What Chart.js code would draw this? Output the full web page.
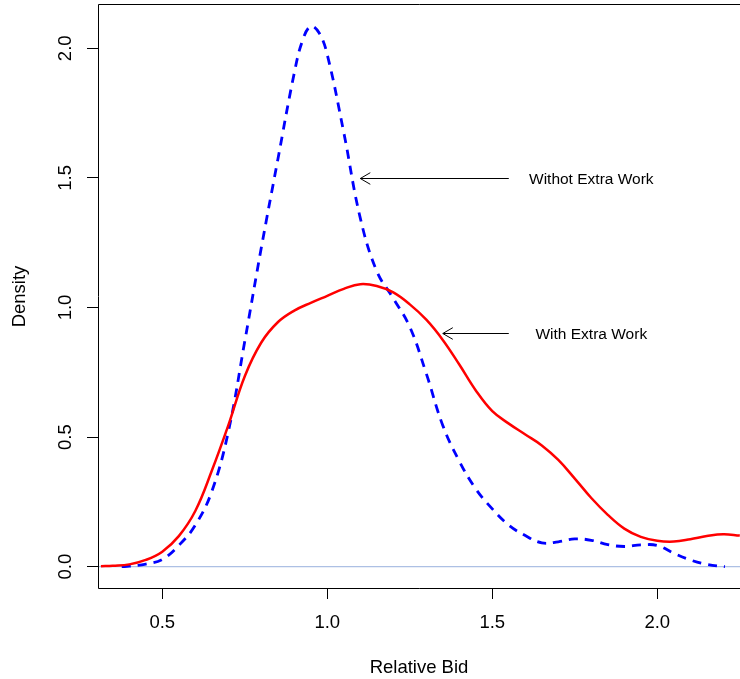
<!DOCTYPE html>
<html>
<head>
<meta charset="utf-8">
<script src="https://cdn.jsdelivr.net/npm/chart.js@4.4.1/dist/chart.umd.min.js"></script>
<style>
  html, body { margin: 0; padding: 0; background: #fff; overflow: hidden; }
  canvas { display: block; }
</style>
</head>
<body>
<canvas id="myChart" width="740" height="679"></canvas>
<script>
// density of relative bids
const withX = [0.314, 0.35, 0.40, 0.45, 0.50, 0.55, 0.60, 0.65, 0.70, 0.75, 0.80, 0.85, 0.90, 0.95, 1.00,
    1.05, 1.10, 1.15, 1.20, 1.25, 1.30, 1.35, 1.40, 1.45, 1.50, 1.55, 1.60, 1.65, 1.70, 1.75, 1.80,
    1.85, 1.90, 1.95, 2.00, 2.05, 2.10, 2.15, 2.20, 2.25];
const withY = [0.002, 0.004, 0.009, 0.026, 0.058, 0.118, 0.215, 0.37, 0.545, 0.735, 0.865, 0.943, 0.988, 1.018, 1.045,
    1.072, 1.09, 1.083, 1.058, 1.012, 0.953, 0.875, 0.78, 0.68, 0.6, 0.552, 0.51, 0.468, 0.412, 0.34, 0.265,
    0.2, 0.147, 0.115, 0.1, 0.097, 0.106, 0.118, 0.125, 0.12];

const withoutX = [0.377, 0.40, 0.45, 0.50, 0.55, 0.60, 0.65, 0.70, 0.75, 0.80, 0.85, 0.90, 0.925, 0.95, 0.975,
    1.00, 1.05, 1.10, 1.15, 1.20, 1.25, 1.30, 1.35, 1.40, 1.45, 1.50, 1.55, 1.60, 1.65, 1.70, 1.75,
    1.80, 1.85, 1.90, 1.95, 2.00, 2.05, 2.10, 2.15, 2.205];
const withoutY = [0.0, 0.002, 0.010, 0.028, 0.082, 0.16, 0.29, 0.52, 0.87, 1.23, 1.57, 1.905, 2.03, 2.085, 2.06,
    1.975, 1.675, 1.345, 1.14, 1.035, 0.925, 0.745, 0.545, 0.407, 0.30, 0.223, 0.16, 0.12, 0.092, 0.096, 0.107,
    0.102, 0.085, 0.078, 0.084, 0.082, 0.052, 0.026, 0.009, 0.0];

const xTicks = [0.5, 1.0, 1.5, 2.0];
const yTicks = [0.0, 0.5, 1.0, 1.5, 2.0];
const xRange = [0.3052, 2.2506];
const yRange = [-0.0822, 2.167];

// arrows + labels (data coords)
const noteLabels = ['Withot Extra Work', 'With Extra Work'];
const noteX = [1.8, 1.8];
const noteY = [1.5, 0.9];
const arrowFromX = [1.55, 1.55];
const arrowToX = [1.1, 1.35];

const FONT = "'Liberation Sans', Arial, Helvetica, sans-serif";
const axisFont = { family: FONT, size: 18.5 };

const toPoints = (xs, ys) => xs.map((x, i) => ({ x: x, y: ys[i] }));

const frameAndNotes = {
    id: 'frameAndNotes',
    afterDraw(chart) {
        const { ctx, chartArea: a, scales: { x, y } } = chart;
        ctx.save();
        ctx.strokeStyle = '#000';
        ctx.lineWidth = 1;
        // box (right side falls outside the canvas)
        const l = Math.round(a.left) + 0.5, t = Math.round(a.top) - 0.5, b = Math.round(a.bottom) + 0.5;
        ctx.beginPath();
        ctx.moveTo(a.right + 2, t);
        ctx.lineTo(l, t);
        ctx.lineTo(l, b);
        ctx.lineTo(a.right + 2, b);
        ctx.stroke();

        ctx.font = '15.5px ' + FONT;
        ctx.fillStyle = '#000';
        ctx.textAlign = 'center';
        ctx.textBaseline = 'middle';
        for (let i = 0; i < noteLabels.length; i++) {
            const py = Math.round(y.getPixelForValue(noteY[i])) + 0.5;
            const x0 = x.getPixelForValue(arrowFromX[i]);
            const x1 = x.getPixelForValue(arrowToX[i]);
            ctx.beginPath();
            ctx.moveTo(x0, py);
            ctx.lineTo(x1, py);
            ctx.moveTo(x1 + 10, py - 5.8);
            ctx.lineTo(x1, py);
            ctx.lineTo(x1 + 10, py + 5.8);
            ctx.stroke();
            ctx.fillText(noteLabels[i], x.getPixelForValue(noteX[i]), py + 1);
        }
        ctx.restore();
    }
};

new Chart(document.getElementById('myChart').getContext('2d'), {
    type: 'line',
    data: {
        datasets: [
            {
                label: 'With Extra Work',
                data: toPoints(withX, withY),
                borderColor: '#ff0000',
                borderWidth: 2.5,
                pointRadius: 0,
                tension: 0.4,
                fill: false
            },
            {
                label: 'Withot Extra Work',
                data: toPoints(withoutX, withoutY),
                borderColor: '#0000ff',
                borderWidth: 2.8,
                borderDash: [9, 7],
                pointRadius: 0,
                tension: 0.4,
                fill: false
            },
            {
                label: 'zero',
                data: toPoints(xRange, [0, 0]),
                borderColor: '#adc0e4',
                borderWidth: 1.2,
                pointRadius: 0,
                fill: false
            }
        ]
    },
    options: {
        responsive: false,
        animation: false,
        events: [],
        layout: { padding: { top: 5, left: 0, right: 0, bottom: 0 } },
        plugins: { legend: { display: false }, tooltip: { enabled: false } },
        scales: {
            x: {
                type: 'linear',
                min: xRange[0],
                max: xRange[1],
                afterBuildTicks: s => { s.ticks = xTicks.map(v => ({ value: v })); },
                afterFit: s => { s.height = 91; s.paddingLeft = 0; s.paddingRight = 0; },
                border: { display: false },
                grid: { drawOnChartArea: false, tickLength: 11, tickColor: '#000', tickWidth: 1 },
                ticks: { color: '#000', font: axisFont, padding: 13, maxRotation: 0,
                    callback: v => v.toFixed(1) },
                title: { display: true, text: 'Relative Bid', color: '#000', font: axisFont,
                    padding: { top: 0, bottom: 0 } }
            },
            y: {
                type: 'linear',
                min: yRange[0],
                max: yRange[1],
                afterBuildTicks: s => { s.ticks = yTicks.map(v => ({ value: v })); },
                afterFit: s => { s.width = 98; s.paddingTop = 0; s.paddingBottom = 0; },
                border: { display: false },
                grid: { drawOnChartArea: false, tickLength: 11, tickColor: '#000', tickWidth: 1 },
                ticks: { color: '#000', font: axisFont, padding: 8, minRotation: 90, maxRotation: 90,
                    crossAlign: 'center', callback: v => v.toFixed(1) },
                title: { display: true, text: 'Density', color: '#000', font: axisFont,
                    padding: { top: 9, bottom: 0 } }
            }
        }
    },
    plugins: [frameAndNotes]
});
</script>
</body>
</html>
